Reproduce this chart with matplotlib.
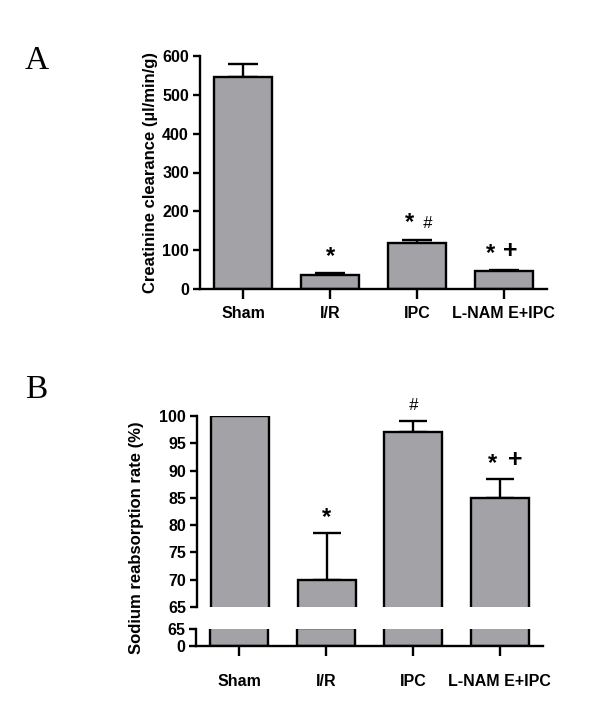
import matplotlib
matplotlib.use("Agg")
import matplotlib.pyplot as plt
import numpy as np

groups = ["Sham", "I/R", "IPC", "L-NAM E+IPC"]
creat_mean = [545, 36, 118, 46]
creat_err = [35, 4, 9, 3]
sodium_mean = [100, 70, 97, 85]
sodium_err = [0, 8.6, 2.0, 3.5]
creat_ticks = [0, 100, 200, 300, 400, 500, 600]
sodium_ticks = [65, 70, 75, 80, 85, 90, 95, 100]

plt.rcParams['font.family'] = ['Liberation Sans', 'DejaVu Sans']
plt.rcParams['font.weight'] = 'bold'

W, H = 600, 707
fig = plt.figure(figsize=(6, 7.07), dpi=100)

def rect(x0, y0, x1, y1):
    return [x0 / W, 1 - y1 / H, (x1 - x0) / W, (y1 - y0) / H]

bar_color = "#a2a2a7"
lw = 1.7
x = np.arange(len(groups))
bw = 0.667

def style(ax):
    for s in ["top", "right"]:
        ax.spines[s].set_visible(False)
    for s in ["left", "bottom"]:
        ax.spines[s].set_linewidth(lw)
    ax.tick_params(width=lw, length=5, labelsize=11.5, pad=3)
    for lab in ax.get_yticklabels() + ax.get_xticklabels():
        lab.set_fontweight("bold")

def star(ax, xp, yp):
    ax.text(xp, yp, "*", ha="center", va="bottom", fontsize=17, fontweight="bold")

def plus(ax, xp, yp):
    ax.text(xp, yp, "+", ha="center", va="bottom", fontsize=18, fontweight="bold")

def hash_(ax, xp, yp):
    ax.text(xp, yp, "#", ha="center", va="bottom", fontsize=12, fontweight="normal",
            style="italic")

# Panel A
axA = fig.add_axes(rect(200, 56, 547, 289))
axA.bar(x, creat_mean, width=bw, color=bar_color, edgecolor="black", linewidth=lw, zorder=2)
axA.errorbar(x, creat_mean, yerr=[np.zeros(len(x)), creat_err], fmt="none",
             ecolor="black", elinewidth=lw, capsize=11, capthick=lw, zorder=1)
axA.set_xlim(-0.5, 3.5)
axA.set_ylim(0, 600)
axA.set_yticks(creat_ticks)
axA.set_xticks(x)
axA.set_xticklabels(groups)
style(axA)
axA.tick_params(axis="x", length=7, pad=5)
axA.set_ylabel("Creatinine clearance (µl/min/g)", fontsize=12, fontweight="bold", labelpad=3)
star(axA, x[1], creat_mean[1] + creat_err[1] + 14)
star(axA, x[2] - 0.09, creat_mean[2] + creat_err[2] + 14)
hash_(axA, x[2] + 0.12, creat_mean[2] + creat_err[2] + 22)
star(axA, x[3] - 0.15, creat_mean[3] + creat_err[3] + 14)
plus(axA, x[3] + 0.08, creat_mean[3] + creat_err[3] + 18)

# Panel B top
axB = fig.add_axes(rect(197, 416, 543, 607))
axB.bar(x, sodium_mean, width=bw, color=bar_color, edgecolor="black", linewidth=lw, zorder=2)
axB.errorbar(x, sodium_mean, yerr=[np.zeros(len(x)), sodium_err], fmt="none",
             ecolor="black", elinewidth=lw, capsize=10, capthick=lw, zorder=1)
axB.set_xlim(-0.5, 3.5)
axB.set_ylim(65, 100)
axB.set_yticks(sodium_ticks)
axB.set_xticks([])
style(axB)
axB.spines["bottom"].set_visible(False)
star(axB, x[1], sodium_mean[1] + sodium_err[1] + 0.6)
hash_(axB, x[2], sodium_mean[2] + sodium_err[2] + 1.5)
star(axB, x[3] - 0.08, sodium_mean[3] + sodium_err[3] + 0.6)
plus(axB, x[3] + 0.18, sodium_mean[3] + sodium_err[3] + 1.3)

# Panel B bottom
axC = fig.add_axes(rect(196, 629, 543, 646))
axC.bar(x, sodium_mean, width=bw, color=bar_color, edgecolor="black", linewidth=lw, zorder=2)
axC.set_xlim(-0.5, 3.5)
axC.set_ylim(0, 65)
axC.set_yticks([0, 65])
axC.set_xticks(x)
axC.set_xticklabels(groups)
style(axC)
axC.tick_params(axis="x", length=7, pad=13)

fig.text(137 / W, 1 - 538 / H, "Sodium reabsorption rate (%)", rotation=90, ha="center", va="center",
         fontsize=12, fontweight="bold")

fig.text(25 / W, 1 - 69 / H, "A", fontsize=24, family="Liberation Serif", fontweight="normal",
         ha="left", va="baseline")
fig.text(25 / W, 1 - 398 / H, "B", fontsize=24, family="Liberation Serif", fontweight="normal",
         ha="left", va="baseline")

fig.savefig("out.png", dpi=100)
